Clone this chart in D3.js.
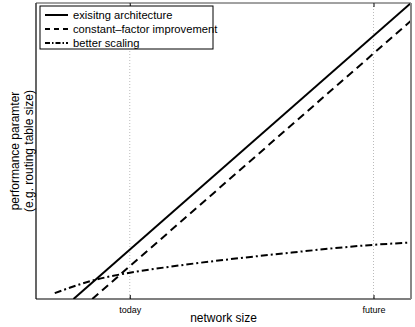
<!DOCTYPE html>
<html>
<head>
<meta charset="utf-8">
<script src="https://cdn.jsdelivr.net/npm/d3@7"></script>
<style>
  body { margin: 0; background: #fff; }
  text { font-family: "Liberation Sans", Arial, sans-serif; }
</style>
</head>
<body>
<div id="chart"></div>
<script>
// x: network size (arbitrary units), y: performance parameter (arbitrary units)
var tickValues = [25, 90];
var tickLabels = ["today", "future"];

var existingX = [10, 100];
var existingY = [0, 100];

var constantX = [15, 100];
var constantY = [0, 94];

var betterX = [5, 15, 25, 34, 66, 90, 100];
var betterY = [2, 6.2, 8.9, 10.6, 15.4, 18.3, 19.1];

var seriesNames = ["exisitng architecture", "constant\u2013factor improvement", "better scaling"];

var W = 415, H = 327;
var margin = {top: 3, right: 4, bottom: 28, left: 36};
var width = W - margin.left - margin.right,
    height = H - margin.top - margin.bottom;

var svg = d3.select("#chart").append("svg")
  .attr("width", W)
  .attr("height", H);

var g = svg.append("g")
  .attr("transform", "translate(" + margin.left + "," + margin.top + ")");

var x = d3.scaleLinear().domain([0, 100]).range([0, width]);
var y = d3.scaleLinear().domain([0, 100]).range([height, 0]);

g.append("clipPath").attr("id", "clip")
  .append("rect").attr("width", width).attr("height", height);

// dotted grid lines
g.selectAll(".grid")
  .data(tickValues)
  .enter().append("line")
    .attr("x1", d => x(d)).attr("x2", d => x(d))
    .attr("y1", 0).attr("y2", height)
    .attr("stroke", "#bbb")
    .attr("stroke-width", 1)
    .attr("stroke-dasharray", "1,2");

// bottom axis with inward ticks
var xAxis = d3.axisBottom(x)
  .tickValues(tickValues)
  .tickFormat((d, i) => tickLabels[i])
  .tickSizeInner(-4)
  .tickSizeOuter(0)
  .tickPadding(8);

var ax = g.append("g")
  .attr("transform", "translate(0," + height + ")")
  .call(xAxis);
ax.select(".domain").remove();
ax.selectAll("text").attr("font-size", 9).attr("font-family", "Liberation Sans, Arial, sans-serif").attr("fill", "#000");
ax.selectAll("line").attr("stroke", "#000");

// top ticks
var topAxis = d3.axisTop(x)
  .tickValues(tickValues)
  .tickFormat("")
  .tickSizeInner(-4)
  .tickSizeOuter(0);
var tx = g.append("g").call(topAxis);
tx.select(".domain").remove();
tx.selectAll("line").attr("stroke", "#000");

// lines
var line = d3.line()
  .x(d => x(d[0]))
  .y(d => y(d[1]));
var curved = d3.line()
  .x(d => x(d[0]))
  .y(d => y(d[1]))
  .curve(d3.curveMonotoneX);

var plot = g.append("g").attr("clip-path", "url(#clip)");

plot.append("path")
  .datum(existingX.map((v, i) => [v, existingY[i]]))
  .attr("d", line)
  .attr("fill", "none").attr("stroke", "#000").attr("stroke-width", 2);

plot.append("path")
  .datum(constantX.map((v, i) => [v, constantY[i]]))
  .attr("d", line)
  .attr("fill", "none").attr("stroke", "#000").attr("stroke-width", 2)
  .attr("stroke-dasharray", "8,5");

plot.append("path")
  .datum(betterX.map((v, i) => [v, betterY[i]]))
  .attr("d", curved)
  .attr("fill", "none").attr("stroke", "#000").attr("stroke-width", 2)
  .attr("stroke-dasharray", "7,3,2,3");

// frame
g.append("line").attr("x1", 0).attr("x2", 0).attr("y1", 0).attr("y2", height)
  .attr("stroke", "#000").attr("stroke-width", 1.2);
g.append("line").attr("x1", 0).attr("x2", width).attr("y1", height).attr("y2", height)
  .attr("stroke", "#000").attr("stroke-width", 1.2);
g.append("line").attr("x1", 0).attr("x2", width).attr("y1", 0).attr("y2", 0)
  .attr("stroke", "#444").attr("stroke-width", 1);
g.append("line").attr("x1", width).attr("x2", width).attr("y1", 0).attr("y2", height)
  .attr("stroke", "#888").attr("stroke-width", 2);

// legend
var legend = g.append("g").attr("transform", "translate(4,3)");
legend.append("rect")
  .attr("width", 173).attr("height", 43)
  .attr("fill", "#fff").attr("stroke", "#000").attr("stroke-width", 1);

var dashes = [null, "5,4", "5,2,1.5,2"];
seriesNames.forEach(function(name, i) {
  var yy = 9 + i * 14;
  legend.append("line")
    .attr("x1", 5).attr("x2", 28)
    .attr("y1", yy).attr("y2", yy)
    .attr("stroke", "#000").attr("stroke-width", 2)
    .attr("stroke-dasharray", dashes[i]);
  legend.append("text")
    .attr("x", 33).attr("y", yy + 4)
    .attr("font-size", 11.2)
    .text(name);
});

// axis titles
svg.append("text")
  .attr("x", margin.left + width / 2)
  .attr("y", 322)
  .attr("text-anchor", "middle")
  .attr("font-size", 12)
  .text("network size");

var yl = svg.append("text")
  .attr("transform", "translate(19," + (margin.top + height / 2) + ") rotate(-90)")
  .attr("text-anchor", "middle")
  .attr("font-size", 12);
yl.append("tspan").attr("x", 0).attr("dy", 0).text("performance paramter");
yl.append("tspan").attr("x", 0).attr("dy", 14).text("(e.g. routing table size)");
</script>
</body>
</html>
